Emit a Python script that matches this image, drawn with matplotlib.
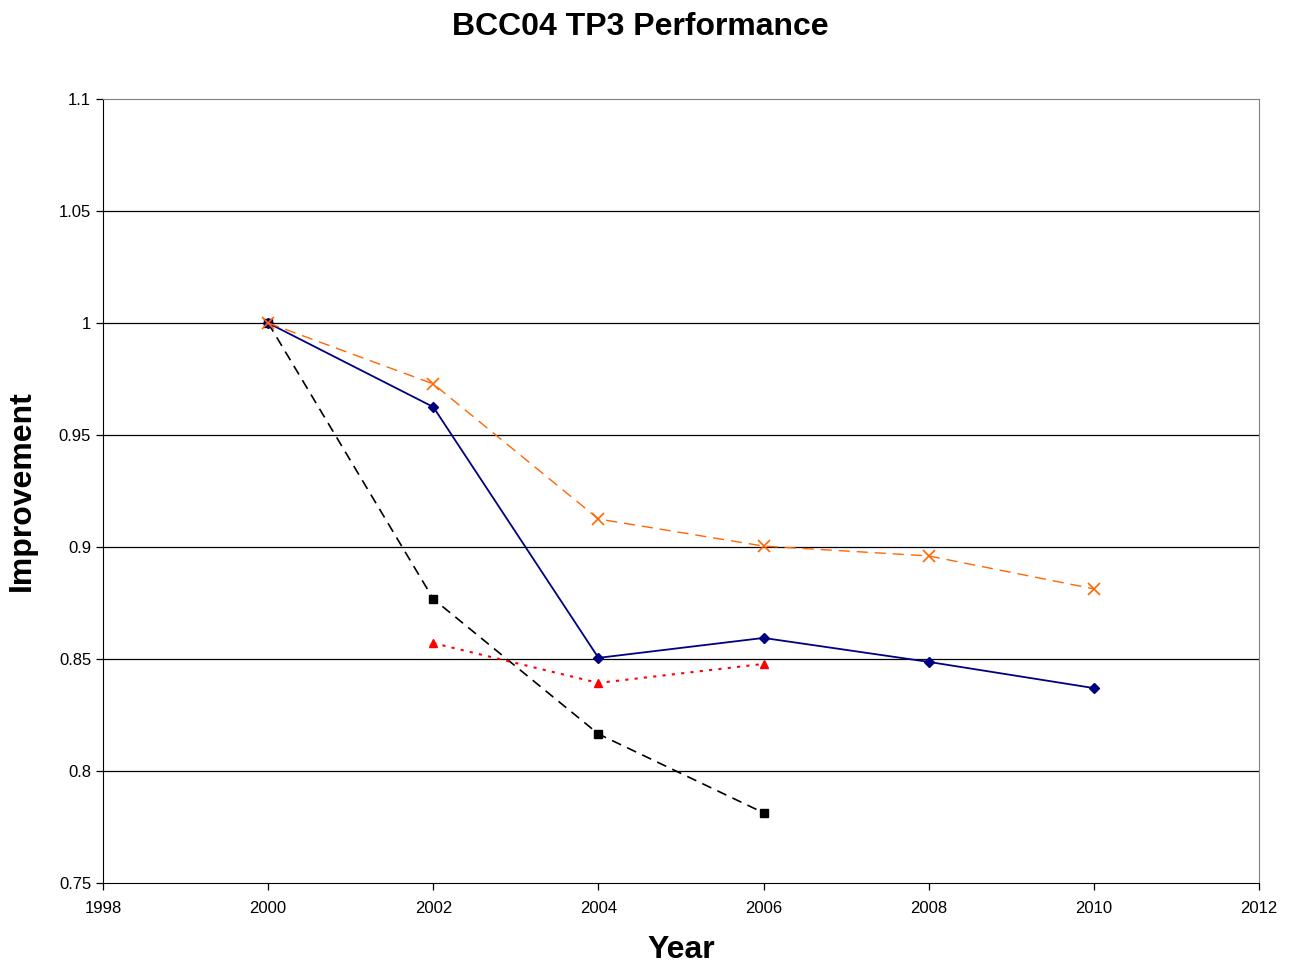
import matplotlib
matplotlib.use('Agg')
import matplotlib.pyplot as plt

plt.rcParams.update({
    'font.family': ['Liberation Sans', 'DejaVu Sans'],
    'font.size': 12,
})

years_blue = [2000, 2002, 2004, 2006, 2008, 2010]
blue = [1.0, 0.9625, 0.8505, 0.8594, 0.8487, 0.8370]

years_orange = [2000, 2002, 2004, 2006, 2008, 2010]
orange = [1.0, 0.9728, 0.9125, 0.9004, 0.8960, 0.8813]

years_black = [2000, 2002, 2004, 2006]
black = [1.0, 0.8768, 0.8165, 0.7813]

years_red = [2002, 2004, 2006]
red = [0.8571, 0.8393, 0.8478]

yticks = [0.75, 0.8, 0.85, 0.9, 0.95, 1.0, 1.05, 1.1]
ytick_labels = ['0.75', '0.8', '0.85', '0.9', '0.95', '1', '1.05', '1.1']
xticks = [1998, 2000, 2002, 2004, 2006, 2008, 2010, 2012]

fig = plt.figure(figsize=(12.94, 9.67), dpi=100)
ax = fig.add_axes([0.0796, 0.0869, 0.8934, 0.8107])

for y in yticks[1:-1]:
    ax.axhline(y, color='black', lw=0.9, zorder=1)

ax.plot(years_black, black, color='black', ls=(0, (6, 4)), lw=1.2,
        marker='s', ms=6, zorder=3)
ax.plot(years_red, red, color='#ff0000', ls=(0, (1.5, 3)), lw=1.5,
        marker='^', ms=6, zorder=3)
ax.plot(years_blue, blue, color='#000080', ls='-', lw=1.3,
        marker='D', ms=5, zorder=4)
ax.plot(years_orange, orange, color='#ff6600', ls=(0, (8, 5)), lw=1.0,
        marker='x', ms=8, mew=1.2, zorder=5)

ax.set_xlim(1998, 2012)
ax.set_ylim(0.75, 1.1)
ax.set_xticks(xticks)
ax.set_yticks(yticks)
ax.set_yticklabels(ytick_labels)
ax.tick_params(direction='out', length=5, labelsize=12, width=0.9)
ax.tick_params(axis='x', pad=8)

for side in ['top', 'right']:
    ax.spines[side].set_color('#808080')
for side in ['left', 'bottom']:
    ax.spines[side].set_color('black')

ax.set_xlabel('Year', fontsize=23, fontweight='bold', labelpad=14)
ax.set_ylabel('Improvement', fontsize=23, fontweight='bold', labelpad=16)
fig.suptitle('BCC04 TP3 Performance', fontsize=23, fontweight='bold',
             x=0.495, y=0.988)

fig.savefig('out.png', dpi=100)
